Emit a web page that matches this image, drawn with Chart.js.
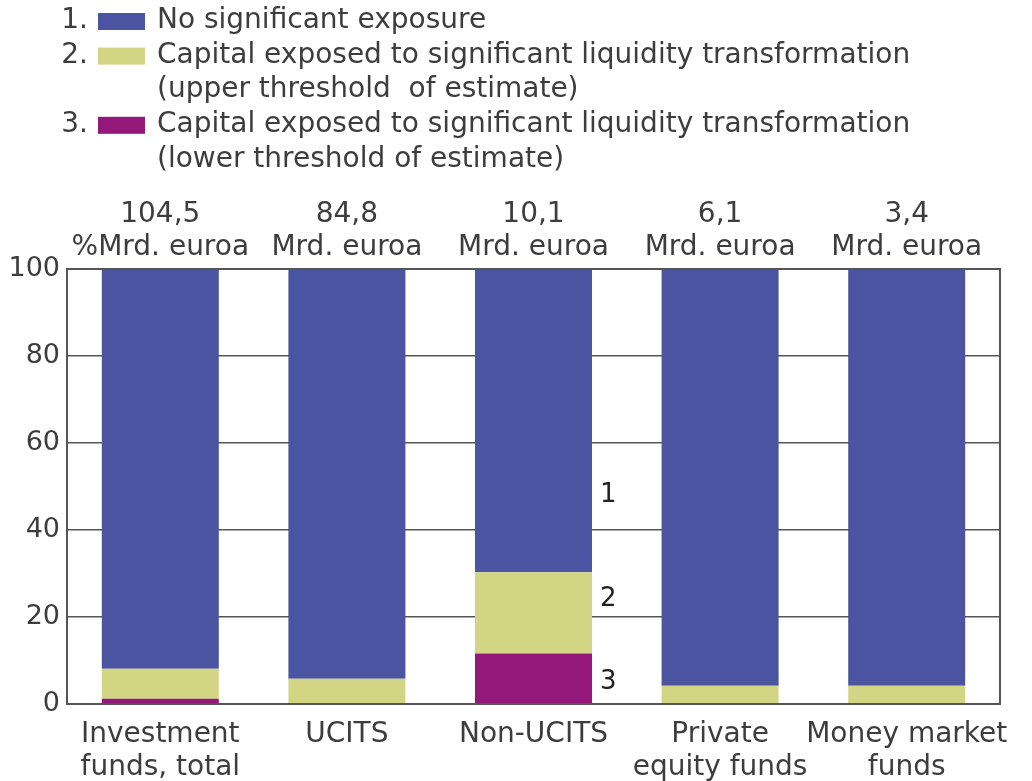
<!DOCTYPE html>
<html>
<head>
<meta charset="utf-8">
<script src="https://cdn.jsdelivr.net/npm/chart.js@4"></script>
<style>
  html, body { margin: 0; padding: 0; background: #fff; }
  #wrap { width: 1032px; height: 781px; }
</style>
</head>
<body>
<div id="wrap"><canvas id="chart" width="1032" height="781"></canvas></div>
<script>
var categories = [['Investment', 'funds, total'], 'UCITS', 'Non-UCITS', ['Private', 'equity funds'], ['Money market', 'funds']];
var totals = ['104,5', '84,8', '10,1', '6,1', '3,4'];
var units = ['%Mrd. euroa', 'Mrd. euroa', 'Mrd. euroa', 'Mrd. euroa', 'Mrd. euroa'];

var lowerShare = [1.2, 0, 11.6, 0, 0];
var upperShare = [6.9, 5.8, 18.7, 4.2, 4.2];
var noExposure = [91.9, 94.2, 69.7, 95.8, 95.8];

var legendItems = [
    ['No significant exposure'],
    ['Capital exposed to significant liquidity transformation', '(upper threshold  of estimate)'],
    ['Capital exposed to significant liquidity transformation', '(lower threshold of estimate)']
];
var colors = ['#4a54a0', '#d2d584', '#93187a'];

// side marks next to the Non-UCITS bar (value on y axis)
var markLabels = ['1', '2', '3'];
var markValues = [48.5, 24.5, 5.5];

var textColor = '#3d3d3d';

var legendPlugin = {
    id: 'numLegend',
    afterDraw: function (chart) {
        var ctx = chart.ctx;
        ctx.save();
        ctx.font = '28px "DejaVu Sans"';
        ctx.fillStyle = textColor;
        ctx.textBaseline = 'middle';
        var y = 21;
        for (var i = 0; i < legendItems.length; i++) {
            ctx.textAlign = 'right';
            ctx.fillText((i + 1) + '.', 88, y);
            ctx.fillStyle = colors[i];
            ctx.fillRect(98, y - 8, 47, 17);
            ctx.fillStyle = textColor;
            ctx.textAlign = 'left';
            for (var j = 0; j < legendItems[i].length; j++) {
                ctx.fillText(legendItems[i][j], 157, y);
                y += 34.6;
            }
        }
        ctx.restore();
    }
};

var frameAndMarks = {
    id: 'frameAndMarks',
    afterDatasetsDraw: function (chart) {
        var ctx = chart.ctx;
        var a = chart.chartArea;
        ctx.save();
        ctx.strokeStyle = '#555';
        ctx.lineWidth = 2;
        ctx.strokeRect(a.left, a.top, a.right - a.left, a.bottom - a.top);

        var bar = chart.getDatasetMeta(0).data[2];
        var x = bar.x + bar.width / 2 + 8;
        ctx.font = '26px "DejaVu Sans"';
        ctx.fillStyle = '#222';
        ctx.textAlign = 'left';
        ctx.textBaseline = 'middle';
        for (var i = 0; i < markLabels.length; i++) {
            ctx.fillText(markLabels[i], x, chart.scales.y.getPixelForValue(markValues[i]) + 2);
        }
        ctx.restore();
    }
};

var ctx = document.getElementById('chart').getContext('2d');
var chart = new Chart(ctx, {
    type: 'bar',
    data: {
        labels: categories,
        datasets: [
            { label: legendItems[2].join(' '), data: lowerShare, backgroundColor: colors[2], xAxisID: 'x' },
            { label: legendItems[1].join(' '), data: upperShare, backgroundColor: colors[1], xAxisID: 'x' },
            { label: legendItems[0].join(' '), data: noExposure, backgroundColor: colors[0], xAxisID: 'x' }
        ]
    },
    options: {
        responsive: false,
        animation: false,
        barPercentage: 0.627,
        categoryPercentage: 1,
        layout: { padding: { left: 0, right: 32, top: 0, bottom: 0 } },
        plugins: {
            legend: { display: false },
            tooltip: { enabled: false }
        },
        scales: {
            x: {
                stacked: true,
                position: 'bottom',
                grid: { display: false },
                border: { display: false },
                ticks: {
                    color: textColor,
                    padding: 6,
                    maxRotation: 0,
                    autoSkip: false,
                    font: { family: 'DejaVu Sans', size: 28, lineHeight: 1.18 }
                },
                afterFit: function (s) { s.height = 77; }
            },
            xTop: {
                type: 'category',
                position: 'top',
                offset: true,
                grid: { display: false },
                border: { display: false },
                ticks: {
                    color: textColor,
                    padding: -3,
                    maxRotation: 0,
                    autoSkip: false,
                    font: { family: 'DejaVu Sans', size: 28, lineHeight: 1.18 },
                    callback: function (v, i) { return [totals[i], units[i]]; }
                },
                afterFit: function (s) { s.height = 269; }
            },
            y: {
                stacked: true,
                min: 0,
                max: 100,
                border: { display: false },
                grid: { color: '#555', lineWidth: 1.5, drawTicks: false },
                ticks: {
                    stepSize: 20,
                    color: textColor,
                    padding: 7,
                    font: { family: 'DejaVu Sans', size: 27 }
                },
                afterFit: function (s) { s.width = 67; }
            }
        }
    },
    plugins: [legendPlugin, frameAndMarks]
});
</script>
</body>
</html>
